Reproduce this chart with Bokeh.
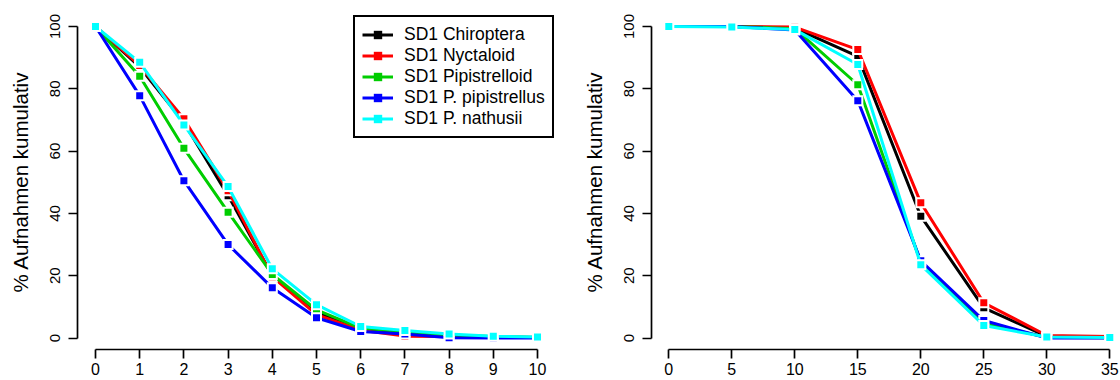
from bokeh.plotting import figure
from bokeh.layouts import row
from bokeh.models import Range1d, FixedTicker, Legend, LegendItem
from bokeh.embed import file_html
from bokeh.resources import INLINE

# ---------------- data ----------------
series_names = ["SD1 Chiroptera", "SD1 Nyctaloid", "SD1 Pipistrelloid",
                "SD1 P. pipistrellus", "SD1 P. nathusii"]
series_colors = ["#000000", "#FF0000", "#00CD00", "#0000FF", "#00FFFF"]

x_left = [0, 1, 2, 3, 4, 5, 6, 7, 8, 9, 10]
left_chiroptera = [100, 87.0, 69.2, 45.7, 20.0, 8.3, 2.8, 1.6, 0.8, 0.3, 0.2]
left_nyctaloid = [100, 87.5, 70.4, 47.3, 19.7, 7.5, 2.5, 0.6, 0.5, 0.3, 0.2]
left_pipistrelloid = [100, 84.0, 60.9, 40.4, 20.4, 9.0, 3.2, 2.0, 1.0, 0.5, 0.2]
left_p_pipistrellus = [100, 77.8, 50.5, 30.0, 16.1, 6.5, 2.1, 1.3, 0.1, 0.0, 0.0]
left_p_nathusii = [100, 88.5, 68.4, 48.6, 22.2, 10.7, 3.7, 2.4, 1.3, 0.6, 0.3]

x_right = [0, 5, 10, 15, 20, 25, 30, 35]
right_chiroptera = [100, 100, 99.5, 90.4, 39.1, 9.7, 0.5, 0.3]
right_nyctaloid = [100, 100, 99.8, 92.6, 43.4, 11.3, 0.8, 0.5]
right_pipistrelloid = [100, 100, 99.3, 81.3, 24.3, 4.8, 0.2, 0.1]
right_p_pipistrellus = [100, 100, 98.9, 76.2, 24.8, 5.6, 0.0, 0.0]
right_p_nathusii = [100, 99.8, 99.0, 87.8, 23.5, 4.0, 0.3, 0.2]

y_ticks = [0, 20, 40, 60, 80, 100]
x_ticks_left = [0, 1, 2, 3, 4, 5, 6, 7, 8, 9, 10]
x_ticks_right = [0, 5, 10, 15, 20, 25, 30, 35]
y_title = "% Aufnahmen kumulativ"

FONT = "Liberation Sans"
Y_RANGE = (-3.69, 103.85)


def style_axes(p, xticks, xbounds):
    p.outline_line_color = None
    p.xgrid.visible = False
    p.ygrid.visible = False
    xa = p.xaxis[0]
    ya = p.yaxis[0]
    xa.ticker = FixedTicker(ticks=xticks)
    ya.ticker = FixedTicker(ticks=y_ticks)
    xa.bounds = xbounds
    ya.bounds = (0, 100)
    for ax in (xa, ya):
        ax.axis_line_width = 1.7
        ax.major_tick_line_width = 1.7
        ax.axis_line_color = "black"
        ax.major_tick_line_color = "black"
        ax.minor_tick_line_color = None
        ax.major_tick_in = 0
        ax.major_label_text_font = FONT
        ax.major_label_text_color = "black"
    xa.major_tick_out = 9
    ya.major_tick_out = 9
    xa.major_label_text_font_size = "16px"
    xa.major_label_standoff = 4
    ya.major_label_text_font_size = "15px"
    ya.major_label_orientation = "vertical"
    ya.major_label_standoff = 8
    ya.axis_label = y_title
    ya.axis_label_text_font = FONT
    ya.axis_label_text_font_size = "20.5px"
    ya.axis_label_text_font_style = "normal"
    ya.axis_label_text_color = "black"
    ya.axis_label_standoff = 16


def draw_series(p, x, ys):
    items = []
    for name, col, y in zip(series_names, series_colors, ys):
        ln = p.line(x, y, line_color=col, line_width=3)
        p.scatter(x, y, marker="square", size=11, fill_color="white",
                  line_color=None)
        mk = p.scatter(x, y, marker="square", size=7, fill_color=col,
                       line_color=None)
        items.append(LegendItem(label=name, renderers=[ln, mk]))
    return items


# ---------------- left panel ----------------
p1 = figure(frame_width=478, frame_height=335, output_backend="svg",
            toolbar_location=None,
            x_range=Range1d(-0.407, 10.407), y_range=Range1d(*Y_RANGE),
            min_border_left=77, min_border_right=22, min_border_top=14,
            min_border_bottom=31)
items = draw_series(p1, x_left, [left_chiroptera, left_nyctaloid,
                                 left_pipistrelloid, left_p_pipistrellus,
                                 left_p_nathusii])
style_axes(p1, x_ticks_left, (0, 10))
legend = Legend(items=items, location=(276, 211))
legend.margin = 0
legend.padding = 7
legend.spacing = 0
legend.label_height = 21
legend.glyph_height = 21
legend.glyph_width = 31
legend.label_standoff = 11
legend.label_text_font = FONT
legend.label_text_font_size = "17.5px"
legend.label_text_color = "black"
legend.border_line_color = "black"
legend.border_line_alpha = 1.0
legend.border_line_width = 2
legend.background_fill_color = "white"
legend.background_fill_alpha = 1.0
p1.add_layout(legend)

# ---------------- right panel ----------------
p2 = figure(frame_width=469, frame_height=335, output_backend="svg",
            toolbar_location=None,
            x_range=Range1d(-1.373, 35.85), y_range=Range1d(*Y_RANGE),
            min_border_left=74, min_border_right=0, min_border_top=14,
            min_border_bottom=31)
draw_series(p2, x_right, [right_chiroptera, right_nyctaloid,
                          right_pipistrelloid, right_p_pipistrellus,
                          right_p_nathusii])
style_axes(p2, x_ticks_right, (0, 35))

layout = row(p1, p2)
open("out.html", "w").write(file_html(layout, INLINE))
